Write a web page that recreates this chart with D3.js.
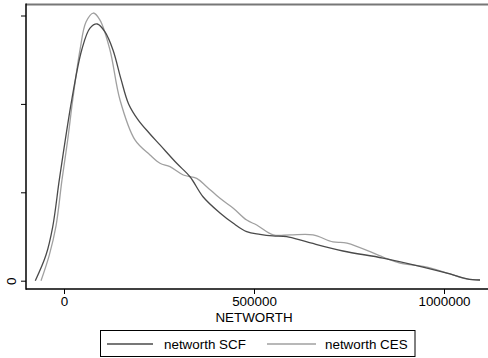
<!DOCTYPE html>
<html>
<head>
<meta charset="utf-8">
<script src="https://cdn.jsdelivr.net/npm/d3@7"></script>
<style>
  html, body { margin: 0; padding: 0; background: #fff; }
  svg { display: block; }
  text { font-family: "Liberation Sans", Arial, sans-serif; }
</style>
</head>
<body>
<svg id="chart" width="488" height="358"></svg>
<script>
// Density values in units of 1e-6
const scfX = [-75500,-47400,-29700,-12400,3400,20300,46600,68400,87600,107900,128900,150000,170000,195000,226300,252600,296600,331600,365800,410500,444700,480800,515800,550000,586000,639500,734200,839500,944700,1015800,1060500,1094700];
const scfY = [0,0.145,0.305,0.570,0.796,1.022,1.305,1.429,1.452,1.407,1.305,1.140,1.000,0.910,0.830,0.768,0.664,0.588,0.475,0.383,0.326,0.277,0.262,0.253,0.249,0.219,0.168,0.128,0.077,0.038,0.010,0.004];
const cesX = [-60500,-38700,-21100,-5300,9700,22900,42100,57900,77100,94700,121000,147400,186800,226300,252600,278900,313900,349200,375500,410500,445500,480800,507100,550800,594700,655300,707900,744700,839500,884200,955300,1015800,1060500,1094700];
const cesY = [0,0.145,0.309,0.570,0.796,1.022,1.305,1.463,1.514,1.474,1.305,1.022,0.796,0.711,0.664,0.645,0.598,0.579,0.532,0.466,0.410,0.343,0.315,0.259,0.259,0.259,0.219,0.213,0.134,0.100,0.077,0.038,0.010,0.004];
const xTicks = [0, 500000, 1000000];
const xTickLabels = ["0", "500000", "1000000"];
const yTicks = [0, 0.5, 1.0, 1.5];
const yTickLabels = ["0", "", "", ""];
const seriesNames = ["networth SCF", "networth CES"];
const seriesColors = ["#4a4a4a", "#a0a0a0"];

(function() {
const svg = d3.select("#chart");
const pLeft = 26, pRight = 488, pTop = 4.5, pBottom = 289;

const x = d3.scaleLinear().domain([0, 500000]).range([64, 254]);
const y = d3.scaleLinear().domain([0, 1.5]).range([280.7, 15.5]);

// top frame line
svg.append("line").attr("x1", pLeft).attr("x2", pRight).attr("y1", pTop).attr("y2", pTop)
  .attr("stroke", "#777").attr("stroke-width", 2);

// x axis
const xAxis = d3.axisBottom(x).tickValues(xTicks).tickFormat((d, i) => xTickLabels[i]).tickSize(5).tickSizeOuter(0);
const gx = svg.append("g").attr("transform", `translate(0,${pBottom})`).call(xAxis);
gx.select(".domain").remove();
gx.selectAll("line").attr("stroke", "#000");
gx.selectAll("text").attr("font-size", "13.4px").attr("fill", "#000").attr("dy", "0").attr("y", 17)
  .attr("font-family", "'Liberation Sans', Arial, sans-serif");
svg.append("line").attr("x1", pLeft).attr("x2", pRight).attr("y1", pBottom).attr("y2", pBottom)
  .attr("stroke", "#000").attr("stroke-width", 1.5);

// y axis
const yAxis = d3.axisLeft(y).tickValues(yTicks).tickFormat((d, i) => yTickLabels[i]).tickSize(5).tickSizeOuter(0);
const gy = svg.append("g").attr("transform", `translate(${pLeft},0)`).call(yAxis);
gy.select(".domain").remove();
gy.selectAll("line").attr("stroke", "#000");
gy.selectAll(".tick").each(function(d) {
  const t = d3.select(this).select("text");
  t.attr("font-size", "13.4px").attr("fill", "#000")
    .attr("font-family", "'Liberation Sans', Arial, sans-serif")
    .attr("text-anchor", "middle")
    .attr("transform", "rotate(-90)")
    .attr("x", 0).attr("y", -15).attr("dy", "0.35em");
});
svg.append("line").attr("x1", pLeft).attr("x2", pLeft).attr("y1", pTop - 1).attr("y2", pBottom + 0.75)
  .attr("stroke", "#000").attr("stroke-width", 1.5);

// lines
const line = d3.line().x(d => x(d[0])).y(d => y(d[1])).curve(d3.curveCatmullRom.alpha(0.5));
const series = [d3.zip(scfX, scfY), d3.zip(cesX, cesY)];
[1, 0].forEach(i => {
  svg.append("path").datum(series[i]).attr("d", line)
    .attr("fill", "none").attr("stroke", seriesColors[i]).attr("stroke-width", 1.3);
});

// x title
svg.append("text").attr("x", 254).attr("y", 322).attr("text-anchor", "middle")
  .attr("font-size", "13.4px").attr("fill", "#000").text("NETWORTH");

// legend
svg.append("rect").attr("x", 100.5).attr("y", 330.5).attr("width", 314.5).attr("height", 26)
  .attr("fill", "#fff").attr("stroke", "#000").attr("stroke-width", 1);
const legX = [[107, 153, 164], [267, 316, 325]];
seriesNames.forEach((n, i) => {
  svg.append("line").attr("x1", legX[i][0]).attr("x2", legX[i][1]).attr("y1", 344).attr("y2", 344)
    .attr("stroke", seriesColors[i]).attr("stroke-width", 1.3);
  svg.append("text").attr("x", legX[i][2]).attr("y", 349).attr("font-size", "13.4px")
    .attr("fill", "#000").text(n);
});
})();
</script>
</body>
</html>
